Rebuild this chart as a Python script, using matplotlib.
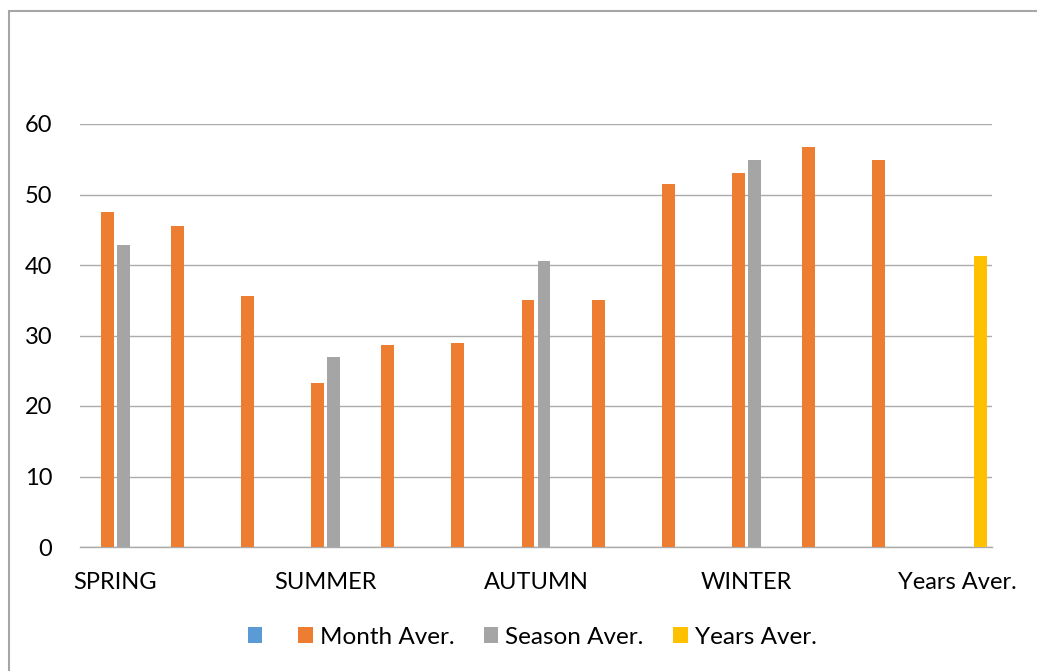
import numpy as np
import matplotlib
matplotlib.use("Agg")
import matplotlib.pyplot as plt
from matplotlib.patches import Patch, Rectangle

plt.rcParams['font.family'] = ['Lato', 'DejaVu Sans']

# 13 category slots: 12 months grouped by season, then the yearly average
season_labels = ['SPRING', 'SUMMER', 'AUTUMN', 'WINTER', 'Years Aver.']
season_label_pos = [0, 3, 6, 9, 12]

month_aver = [47.5, 45.5, 35.6, 23.3, 28.7, 29.0, 35.1, 35.1, 51.5, 53.0, 56.8, 54.9, np.nan]
season_aver = [42.9, np.nan, np.nan, 27.0, np.nan, np.nan, 40.6, np.nan, np.nan, 54.9, np.nan, np.nan, np.nan]
years_aver = [np.nan] * 12 + [41.3]
blank_series = [np.nan] * 13

series_names = ['', 'Month Aver.', 'Season Aver.', 'Years Aver.']
series_colors = ['#5b9bd5', '#ed7d31', '#a5a5a5', '#ffc000']
series_values = [blank_series, month_aver, season_aver, years_aver]

W, H = 1037, 671
fig = plt.figure(figsize=(W / 100, H / 100), dpi=100)
ax = fig.add_axes([80 / W, 1 - 547 / H, (992 - 80) / W, (547 - 124) / H])

x = np.arange(13)
slot = 0.228
bar_w = 0.185
for i, (vals, col) in enumerate(zip(series_values, series_colors)):
    ax.bar(x + (i - 1.5) * slot, vals, width=bar_w, color=col, zorder=3)

ax.set_xlim(-0.5, 12.5)
ax.set_ylim(0, 60)
ax.set_yticks(range(0, 61, 10))
ax.set_xticks(season_label_pos)
ax.set_xticklabels(season_labels)
ax.tick_params(axis='y', length=0, pad=20, labelsize=17)
ax.tick_params(axis='x', length=0, pad=18, labelsize=17)
ax.grid(axis='y', color='#ababab', linewidth=1.0, zorder=0)
for s in ['top', 'right', 'left']:
    ax.spines[s].set_visible(False)
ax.spines['bottom'].set_color('#ababab')
ax.spines['bottom'].set_linewidth(1.0)

handles = [Patch(facecolor=c, edgecolor='none') for c in series_colors]
fig.legend(handles, series_names, loc='center', bbox_to_anchor=(532 / W, 1 - 637 / H),
           ncol=4, frameon=False, fontsize=17.5, handlelength=0.6, handleheight=0.6,
           handletextpad=0.29, columnspacing=1.2)

# outer chart border (only top and left edges fall inside the picture)
fig.patches.append(Rectangle((9 / W, -0.1), 1.2, 1 - 11 / H + 0.1, transform=fig.transFigure,
                             fill=False, edgecolor='#a6a6a6', linewidth=1.5))

fig.savefig('out.png', dpi=100)
